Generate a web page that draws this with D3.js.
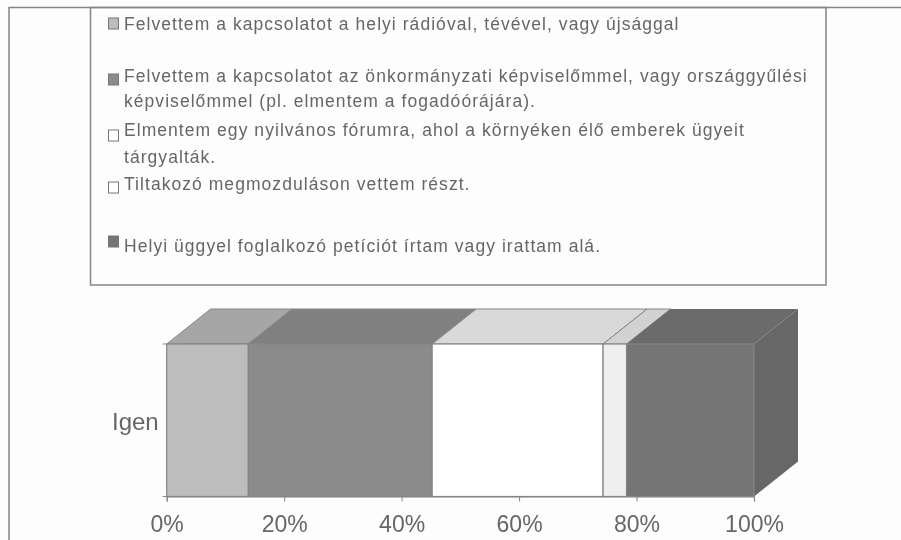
<!DOCTYPE html>
<html>
<head>
<meta charset="utf-8">
<script src="https://cdn.jsdelivr.net/npm/d3@7"></script>
<style>
  html, body { margin: 0; padding: 0; background: #fdfdfd; }
  svg { display: block; filter: blur(0.5px); }
  text { font-family: "Liberation Sans", Arial, sans-serif; fill: #666666; }
</style>
</head>
<body>
<div id="app"></div>
<script>
// Data
const categories = ["Igen"]
const seriesNames = ["Helyi média", "Képviselő", "Fórum", "Tiltakozás", "Petíció"]
const seriesValues = [13.9, 31.3, 29.1, 4.0, 21.7]
const tickValues = [0, 20, 40, 60, 80, 100]
const tickLabels = ["0%", "20%", "40%", "60%", "80%", "100%"]
const legendLines = [
    ["Felvettem a kapcsolatot a helyi rádióval, tévével, vagy újsággal"],
    ["Felvettem a kapcsolatot az önkormányzati képviselőmmel, vagy országgyűlési",
     "képviselőmmel (pl. elmentem a fogadóórájára)."],
    ["Elmentem egy nyilvános fórumra, ahol a környéken élő emberek ügyeit",
     "tárgyalták."],
    ["Tiltakozó megmozduláson vettem részt."],
    ["Helyi üggyel foglalkozó petíciót írtam vagy irattam alá."]
]
const frontColors = ["#bdbdbd", "#8b8b8b", "#ffffff", "#efefef", "#757575"]
const topColors = ["#a6a6a6", "#808080", "#d9d9d9", "#d2d2d2", "#6b6b6b"]
const legendBaselines = [[30], [82, 107], [136, 163], [190], [252]]
const swatchTops = [18, 74, 130, 182, 236]

const width = 901, height = 540
const lineColor = "#858585"
const depthX = 44, depthY = 35

let svg = d3.select("#app").append("svg")
    .attr("width", width)
    .attr("height", height)

// outer slide frame
svg.append("path")
    .attr("d", "M9,540V7.5H901")
    .attr("fill", "none")
    .attr("stroke", lineColor)
    .attr("stroke-width", 1.5)

// legend box
svg.append("rect")
    .attr("x", 90.5)
    .attr("y", 7.5)
    .attr("width", 735.5)
    .attr("height", 277.5)
    .attr("fill", "none")
    .attr("stroke", lineColor)
    .attr("stroke-width", 1.5)

let legend = svg.append("g")

legend.selectAll("rect")
    .data(seriesNames)
    .enter().append("rect")
    .attr("x", 108.5)
    .attr("y", (d, i) => swatchTops[i])
    .attr("width", 10)
    .attr("height", 11)
    .attr("fill", (d, i) => i == 2 || i == 3 ? "#ffffff" : frontColors[i])
    .attr("stroke", "#777")

legend.selectAll("g")
    .data(legendLines)
    .enter().append("g")
    .each(function(lines, i) {
        d3.select(this).selectAll("text")
            .data(lines)
            .enter().append("text")
            .attr("x", 124)
            .attr("y", (d, j) => legendBaselines[i][j])
            .attr("font-size", 17.5)
            .attr("letter-spacing", 1.05)
            .text(d => d)
    })

// chart scales
let x = d3.scaleLinear().domain([0, 100]).range([166.7, 754])
let y = d3.scaleBand().domain(categories).range([344, 496.5])

let stacked = []
let sum = 0
seriesValues.forEach((v, i) => {
    stacked.push({name: seriesNames[i], start: sum, end: sum + v, i: i})
    sum += v
})

let bar = svg.append("g")
let barTop = y(categories[0]), barBottom = barTop + y.bandwidth()

// top faces
bar.selectAll(".top")
    .data(stacked)
    .enter().append("path")
    .attr("class", "top")
    .attr("d", d => `M${x(d.start)},${barTop}L${x(d.start) + depthX},${barTop - depthY}`
        + `L${x(d.end) + depthX},${barTop - depthY}L${x(d.end)},${barTop}Z`)
    .attr("fill", d => topColors[d.i])
    .attr("stroke", d => d.i == 4 ? "none" : lineColor)

// right side of the last segment
bar.append("path")
    .attr("d", `M${x(100)},${barTop}L${x(100) + depthX},${barTop - depthY}`
        + `L${x(100) + depthX},${barBottom - depthY}L${x(100)},${barBottom}Z`)
    .attr("fill", "#676767")

// front faces
bar.selectAll(".front")
    .data(stacked)
    .enter().append("rect")
    .attr("class", "front")
    .attr("x", d => x(d.start))
    .attr("y", barTop)
    .attr("width", d => x(d.end) - x(d.start))
    .attr("height", y.bandwidth())
    .attr("fill", d => frontColors[d.i])
    .attr("stroke", lineColor)
    .attr("stroke-width", 1.2)

// axes
let xAxis = svg.append("g")
    .attr("transform", `translate(0,${barBottom})`)
    .call(d3.axisBottom(x).tickValues(tickValues).tickFormat((d, i) => tickLabels[i]).tickSize(5).tickPadding(14))
xAxis.select(".domain").attr("stroke", lineColor).attr("stroke-width", 1.2)
xAxis.selectAll("line").attr("stroke", lineColor)
xAxis.selectAll("text").attr("font-size", 23).attr("fill", null)

let yAxis = svg.append("g")
    .attr("transform", `translate(${x(0)},0)`)
    .call(d3.axisLeft(y).tickSize(0).tickPadding(8))
yAxis.select(".domain").remove()
yAxis.selectAll("text").attr("font-size", 24).attr("fill", null).attr("dy", "0.4em")

// small ticks at both ends of the category axis
svg.append("g").selectAll("line")
    .data([barTop, barBottom])
    .enter().append("line")
    .attr("x1", x(0) - 4)
    .attr("x2", x(0))
    .attr("y1", d => d)
    .attr("y2", d => d)
    .attr("stroke", lineColor)
</script>
</body>
</html>
